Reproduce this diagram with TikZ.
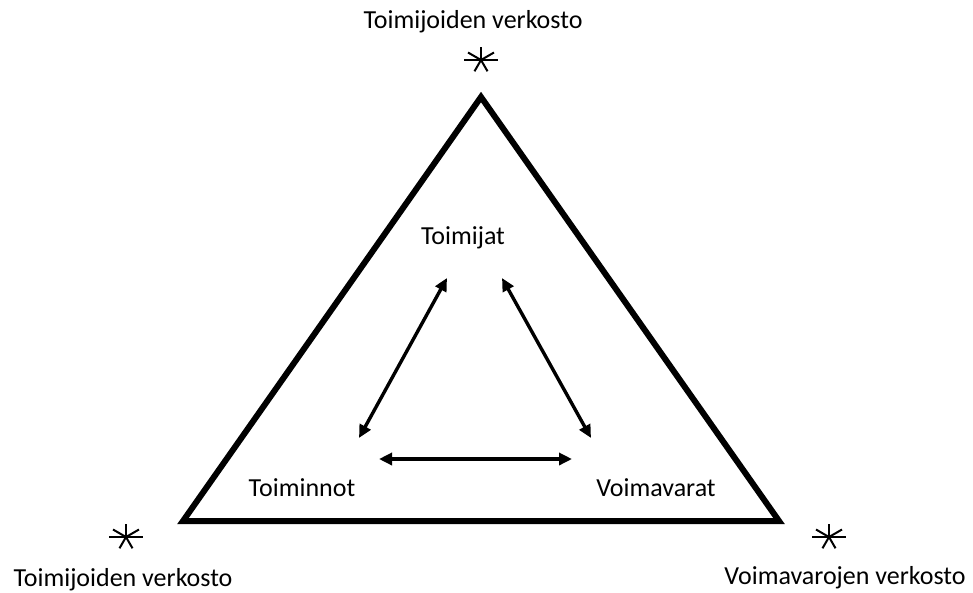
\documentclass[tikz,border=0pt]{standalone}
\usepackage{fontspec}
\setmainfont{Carlito}
\usetikzlibrary{arrows.meta}
\tikzset{
  lbl/.style={font=\fontsize{26}{30}\selectfont, inner sep=0pt},
  twoway/.style={line width=3.4pt, {Triangle[length=13pt,width=12pt]}-{Triangle[length=13pt,width=12pt]}},
  star/.style={line width=2pt}
}
\newcommand{\spark}[1]{%
  \draw[star] (#1) -- ++(90:13);
  \draw[star] (#1) -- ++(0:17) (#1) -- ++(180:17);
  \draw[star] (#1) -- ++(150:15) (#1) -- ++(30:15);
  \draw[star] (#1) -- ++(240:13) (#1) -- ++(300:13);
}
\begin{document}
\begin{tikzpicture}[x=1pt,y=-1pt]
\useasboundingbox (0,0) rectangle (973,592);
% outer triangle
\coordinate (apex) at (481,97);
\coordinate (bl) at (183,521);
\coordinate (br) at (779,521);
\draw[line width=6pt, line join=miter] (apex) -- (bl) -- (br) -- cycle;
% corner marks
\coordinate (sTop) at (481,60);
\coordinate (sLeft) at (126,537);
\coordinate (sRight) at (829,537);
\begin{scope}[y=1pt]
\spark{sTop}
\spark{sLeft}
\spark{sRight}
\end{scope}
% corner labels
\node[lbl] (tTop) at (473,22) {Toimijoiden verkosto};
\node[lbl] (tLeft) at (123,580) {Toimijoiden verkosto};
\node[lbl] (tRight) at (845,578) {Voimavarojen verkosto};
% inner labels
\node[lbl] (toimijat) at (463,238) {Toimijat};
\node[lbl] (toiminnot) at (302,488) {Toiminnot};
\node[lbl] (voimavarat) at (656,488) {Voimavarat};
% arrow ends
\coordinate (a1) at (447,278);
\coordinate (a2) at (359,438);
\coordinate (b1) at (502,278);
\coordinate (b2) at (591,438);
\coordinate (c1) at (379,459);
\coordinate (c2) at (572,459);
\draw[twoway] (a1) -- (a2);
\draw[twoway] (b1) -- (b2);
\draw[twoway] (c1) -- (c2);
\end{tikzpicture}
\end{document}
